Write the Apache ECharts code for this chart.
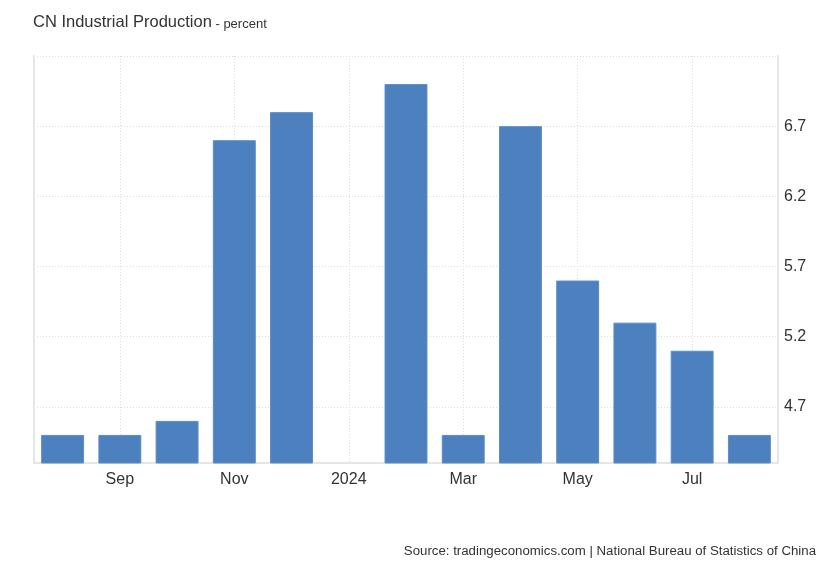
<!DOCTYPE html>
<html>
<head>
<meta charset="utf-8">
<script src="https://cdn.jsdelivr.net/npm/echarts@6/dist/echarts.min.js"></script>
<style>
html,body{margin:0;padding:0;background:#fff;}
#chart{width:830px;height:567px;}
</style>
</head>
<body>
<div id="chart"></div>
<script>
var categories = ['Aug','Sep','Oct','Nov','Dec','2024','Feb','Mar','Apr','May','Jun','Jul','Aug'];
var values = [4.5, 4.5, 4.6, 6.6, 6.8, null, 7.0, 4.5, 6.7, 5.6, 5.3, 5.1, 4.5];
var yTickValues = [4.7, 5.2, 5.7, 6.2, 6.7, 7.2];
var yLabelValues = [4.7, 5.2, 5.7, 6.2, 6.7];

var FONT = "'Liberation Sans', Arial, Helvetica, sans-serif";
var chart = echarts.init(document.getElementById('chart'), null, {renderer: 'canvas'});
var yMin = 4.3, yMax = 7.2;
chart.setOption({
  animation: false,
  backgroundColor: '#ffffff',
  title: {
    left: 33, top: 14, padding: 0,
    text: '{a|CN Industrial Production}{b| - percent}',
    textStyle: {
      rich: {
        a: {fontSize: 16.5, fontWeight: 'normal', color: '#333333', fontFamily: FONT},
        b: {fontSize: 13, fontWeight: 'normal', color: '#333333', fontFamily: FONT, padding: [3,0,0,0]}
      }
    }
  },
  graphic: [{
    type: 'text', right: 14, top: 545,
    style: {text: 'Source: tradingeconomics.com | National Bureau of Statistics of China', fontSize: 13.25, fill: '#333333', fontFamily: FONT}
  }],
  grid: {left: 34, right: 52, top: 56, bottom: 104, containLabel: false},
  xAxis: {
    type: 'category',
    data: categories,
    boundaryGap: true,
    axisLine: {show: true, lineStyle: {color: '#e6e6e6', width: 2}},
    axisTick: {show: false},
    axisLabel: {
      interval: function (i) { return i % 2 === 1; },
      color: '#333333', fontSize: 16, fontFamily: FONT, margin: 9
    },
    splitLine: {
      show: true, alignWithLabel: true,
      interval: function (i) { return i % 2 === 1; },
      lineStyle: {color: '#dcdcdc', type: [1, 2], width: 1}
    }
  },
  yAxis: [{
    type: 'value',
    position: 'right',
    min: yMin, max: yMax,
    axisLine: {show: true, lineStyle: {color: '#e6e6e6', width: 2}},
    axisTick: {show: false, customValues: yTickValues},
    axisLabel: {customValues: yLabelValues, color: '#333333', fontSize: 16, fontFamily: FONT, margin: 6,
      formatter: function (v) { return v.toFixed(1); }},
    splitLine: {show: true, lineStyle: {color: '#dcdcdc', type: [1, 2], width: 1}}
  }, {
    type: 'value',
    position: 'left',
    min: yMin, max: yMax,
    axisLine: {show: true, lineStyle: {color: '#e6e6e6', width: 2}},
    axisTick: {show: false},
    axisLabel: {show: false},
    splitLine: {show: false}
  }],
  series: [{
    type: 'bar',
    data: values,
    yAxisIndex: 0,
    barWidth: '75%',
    itemStyle: {color: '#4d80be', borderColor: '#5a8cc7', borderWidth: 1}
  }]
});
</script>
</body>
</html>
